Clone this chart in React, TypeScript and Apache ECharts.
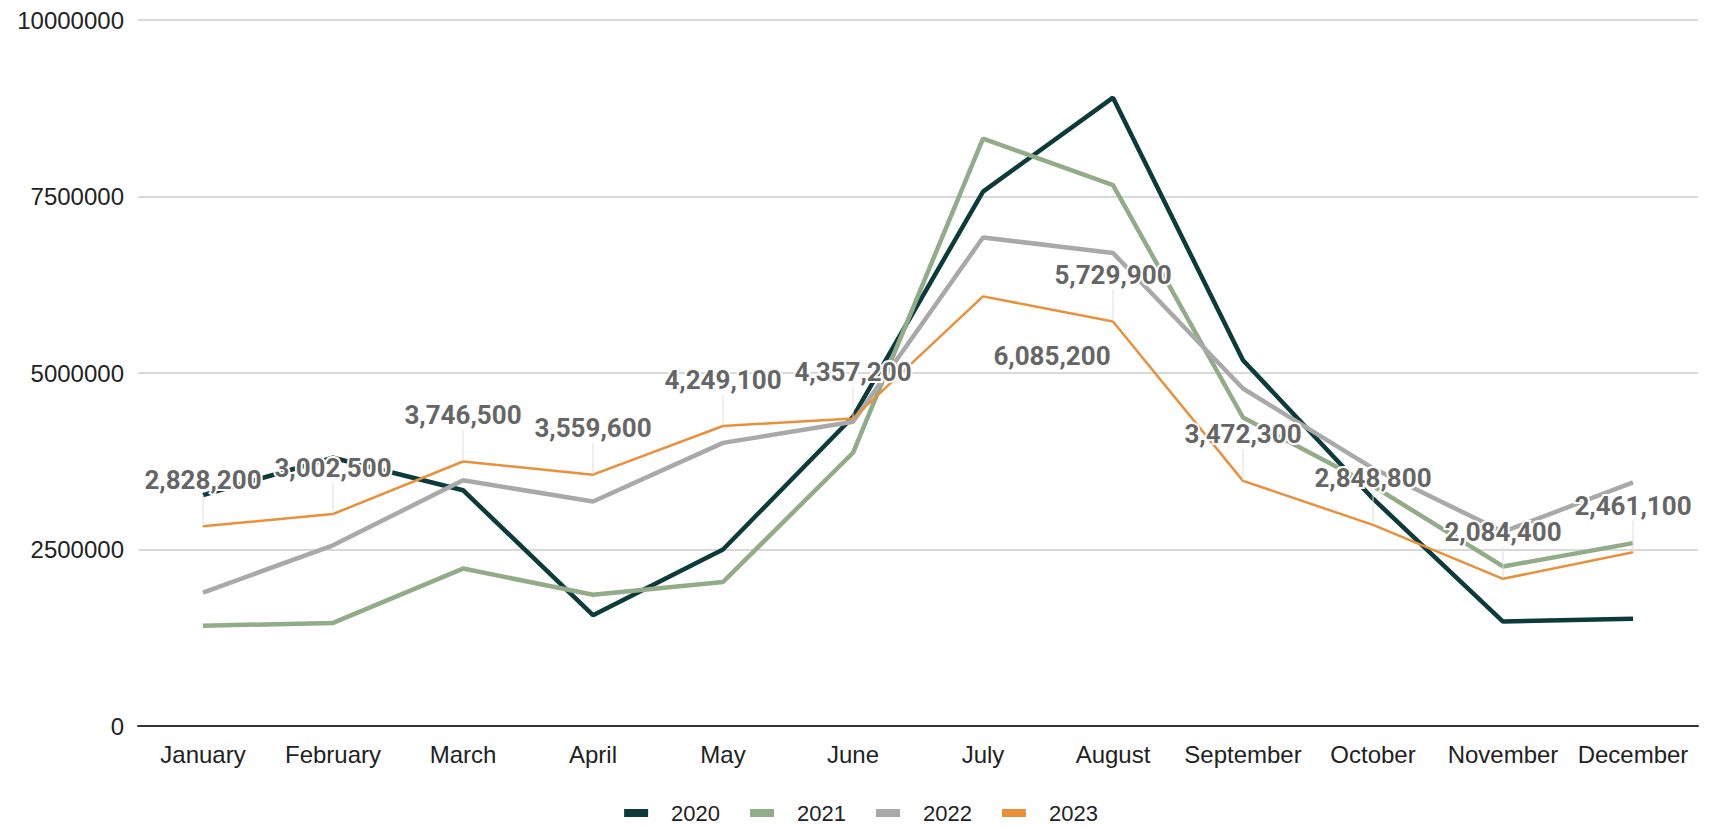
import React, { useEffect, useRef } from "react";
import * as echarts from "echarts";

const months = ["January", "February", "March", "April", "May", "June", "July", "August", "September", "October", "November", "December"];
const years = ["2020", "2021", "2022", "2023"];
const values2020 = [3270000, 3800000, 3340000, 1570000, 2500000, 4380000, 7570000, 8900000, 5180000, 3220000, 1480000, 1520000];
const values2021 = [1420000, 1460000, 2230000, 1860000, 2040000, 3870000, 8320000, 7660000, 4370000, 3400000, 2260000, 2590000];
const values2022 = [1890000, 2560000, 3480000, 3180000, 4010000, 4310000, 6920000, 6700000, 4780000, 3650000, 2750000, 3450000];
const values2023 = [2828200, 3002500, 3746500, 3559600, 4249100, 4357200, 6085200, 5729900, 3472300, 2848800, 2084400, 2461100];
const yTicks = { min: 0, max: 10000000, interval: 2500000 };

const colors = ["#0d3b3b", "#92ab88", "#a9a9a9", "#e8913a"];
const movedLabelIndex = 6;

export default function App() {
  const ref = useRef<HTMLDivElement>(null);
  useEffect(() => {
    if (!ref.current) return;
    const chart = echarts.init(ref.current, undefined, { renderer: "svg" });
    const seriesData = [values2020, values2021, values2022, values2023];
    const series: any[] = seriesData.map((vals, i) => {
      const isLast = i === 3;
      const base: any = {
        name: years[i],
        type: "line",
        data: vals,
        symbol: "none",
        lineStyle: { color: colors[i], width: isLast ? 2.5 : 4.5 },
        itemStyle: { color: colors[i] },
        z: 2 + i,
      };
      if (isLast) {
        base.symbol = "circle";
        base.symbolSize = 1;
        base.showSymbol = true;
        base.itemStyle = { color: colors[i], opacity: 1 };
        base.data = vals.map((v, k) => ({
          value: v,
          labelLine: { show: k !== movedLabelIndex },
        }));
        base.label = {
          show: true,
          position: "top",
          distance: 33,
          color: "#666666",
          fontFamily: "Roboto",
          fontWeight: "bold",
          fontSize: 26,
          textBorderColor: "#ffffff",
          textBorderWidth: 4,
          formatter: (p: any) => Number(p.value).toLocaleString("en-US"),
        };
        base.labelLine = {
          show: true,
          lineStyle: { color: "#dddddd", width: 1 },
        };
        base.labelLayout = (p: any) =>
          p.dataIndex === movedLabelIndex ? { dx: 69, dy: 106 } : {};
      }
      return base;
    });
    chart.setOption({
      animation: false,
      color: colors,
      grid: { left: 138, right: 24, top: 20, bottom: 101, containLabel: false },
      legend: {
        bottom: -2,
        left: "center",
        icon: "rect",
        itemWidth: 24,
        itemHeight: 8,
        itemGap: 30,
        formatter: (name: string) => "{a|" + name + "}",
        textStyle: {
          fontSize: 22,
          color: "#222",
          fontFamily: "Liberation Sans, Arial",
          rich: { a: { fontSize: 22, color: "#222", fontFamily: "Liberation Sans, Arial", padding: [0, 0, 0, 18] } },
        },
        data: years,
      },
      xAxis: {
        type: "category",
        data: months,
        boundaryGap: true,
        axisLine: { lineStyle: { color: "#333", width: 2 } },
        axisTick: { show: false },
        axisLabel: { fontSize: 24, color: "#222", margin: 16, fontFamily: "Liberation Sans, Arial", interval: 0 },
      },
      yAxis: {
        type: "value",
        min: yTicks.min,
        max: yTicks.max,
        interval: yTicks.interval,
        axisLine: { show: false },
        axisTick: { show: false },
        splitLine: { lineStyle: { color: "#cccccc", width: 1.5 } },
        axisLabel: { fontSize: 24, color: "#222", margin: 14, fontFamily: "Liberation Sans, Arial", formatter: (v: number) => String(v) },
      },
      series,
    });
    return () => chart.dispose();
  }, []);
  return <div ref={ref} style={{ width: 1722, height: 827, position: "absolute", left: 0, top: 0 }} />;
}
